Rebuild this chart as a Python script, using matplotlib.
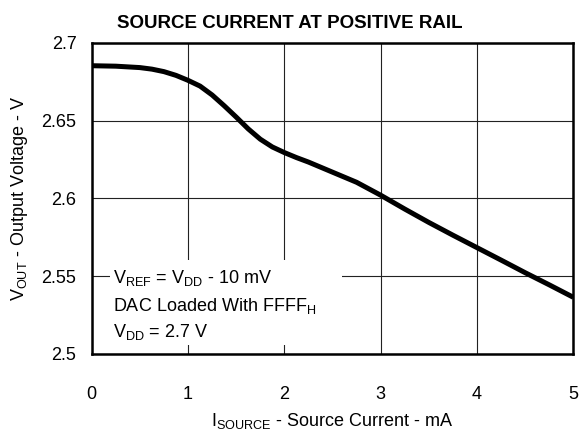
import numpy as np
import matplotlib
matplotlib.use("Agg")
import matplotlib.pyplot as plt
import matplotlib.patches as mpatches

# curve
current_ma = [0, 0.25, 0.5, 0.625, 0.75, 0.875, 1.0, 1.125, 1.25, 1.375, 1.5,
              1.625, 1.75, 1.875, 2.0, 2.125, 2.25, 2.5, 2.75, 3.0, 3.25, 3.5,
              3.75, 4.0, 4.25, 4.5, 4.75, 5.0]
vout = [2.6852, 2.6849, 2.6840, 2.6830, 2.6814, 2.6790, 2.6758, 2.6721,
        2.6664, 2.6595, 2.6522, 2.6446, 2.6380, 2.6330, 2.6294, 2.6262,
        2.6233, 2.6168, 2.6103, 2.6020, 2.5931, 2.5845, 2.5763, 2.5683,
        2.5603, 2.5522, 2.5444, 2.5364]

x_ticks = [0, 1, 2, 3, 4, 5]
y_ticks = [2.5, 2.55, 2.6, 2.65, 2.7]
y_tick_labels = ["2.5", "2.55", "2.6", "2.65", "2.7"]

note_lines = [r"V$_{\mathregular{REF}}$ = V$_{\mathregular{DD}}$ - 10 mV",
              r"DAC Loaded With FFFF$_{\mathregular{H}}$",
              r"V$_{\mathregular{DD}}$ = 2.7 V"]
note_y = [2.5453, 2.5278, 2.5107]

plt.rcParams['font.family'] = ['Liberation Sans', 'DejaVu Sans']
plt.rcParams['mathtext.fontset'] = 'custom'
plt.rcParams['mathtext.rm'] = 'Liberation Sans'
plt.rcParams['mathtext.it'] = 'Liberation Sans:italic'
plt.rcParams['mathtext.bf'] = 'Liberation Sans:bold'

fig = plt.figure(figsize=(5.8, 4.32), dpi=100)
ax = fig.add_axes([0.1581, 0.1806, 0.8305, 0.7206])

ax.set_axisbelow(True)
ax.grid(True, color='#222222', linewidth=0.8)
ax.plot(current_ma, vout, color='black', linewidth=3.6, zorder=3,
        solid_capstyle='butt', solid_joinstyle='round')

# white patch behind the notes
ax.add_patch(mpatches.Rectangle((0.19, 2.5058), 2.41, 0.0545,
                                facecolor='white', edgecolor='none', zorder=1))
for txt, yy in zip(note_lines, note_y):
    ax.text(0.223, yy, txt, fontsize=13, va='baseline', ha='left', zorder=2)

ax.set_xlim(0, 5)
ax.set_ylim(2.5, 2.7)
ax.set_xticks(x_ticks)
ax.set_yticks(y_ticks)
ax.set_yticklabels(y_tick_labels)
ax.tick_params(axis='both', length=0, labelsize=13)
ax.tick_params(axis='x', pad=23)
ax.tick_params(axis='y', pad=11)
for sp in ax.spines.values():
    sp.set_linewidth(1.8)

fig.text(0.5, 1 - 24 / 432, "SOURCE CURRENT AT POSITIVE RAIL", fontsize=13.5,
         fontweight='bold', ha='center', va='center')
ax.set_xlabel(r"I$_{\mathregular{SOURCE}}$ - Source Current - mA", fontsize=13,
              labelpad=6)
ax.set_ylabel(r"V$_{\mathregular{OUT}}$ - Output Voltage - V", fontsize=13,
              labelpad=8)

fig.savefig("out.png", dpi=100)
